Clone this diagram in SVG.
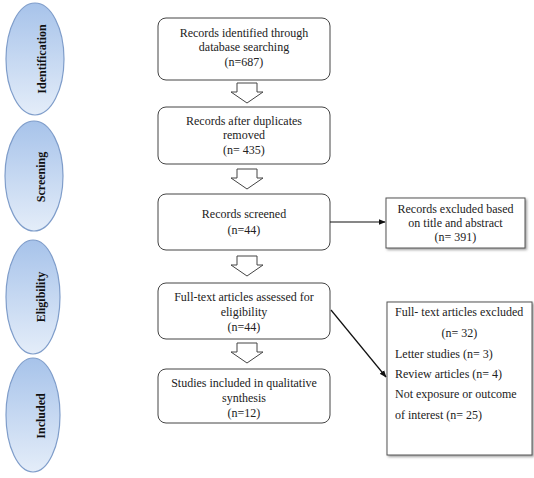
<svg xmlns="http://www.w3.org/2000/svg" width="534" height="478" viewBox="0 0 534 478">
<defs>
<linearGradient id="eg" x1="0" y1="0" x2="0" y2="1">
<stop offset="0" stop-color="#a7c3ea"/>
<stop offset="1" stop-color="#e4edf9"/>
</linearGradient>
<marker id="ah" viewBox="0 0 10 10" refX="9" refY="5" markerWidth="6" markerHeight="6" orient="auto">
<path d="M0,1 L10,5 L0,9 z" fill="#111"/>
</marker>
<filter id="sh" x="-10%" y="-10%" width="130%" height="130%">
<feDropShadow dx="1.5" dy="1.5" stdDeviation="0.8" flood-color="#777" flood-opacity="0.7"/>
</filter>
</defs>
<style>
.ell{fill:url(#eg);stroke:#7f9dca;stroke-width:1.2}
.lbl{font-family:"Liberation Serif","Times New Roman",serif;font-size:12px;font-weight:bold;fill:#111}
.box{fill:#fff;stroke:#444;stroke-width:1}
.rbox{fill:#fff;stroke:#555;stroke-width:1;filter:url(#sh)}
.t{font-family:"Liberation Serif","Times New Roman",serif;font-size:12px;fill:#222}
.c{text-anchor:middle}
.ha{fill:#fff;stroke:#444;stroke-width:1}
.ln{stroke:#111;stroke-width:1.2;fill:none;marker-end:url(#ah)}
</style>
<rect width="534" height="478" fill="#fff"/>

<g id="phase-identification">
<ellipse class="ell" cx="35" cy="59" rx="29" ry="56"/>
<text class="lbl" text-anchor="middle" transform="translate(46,59) rotate(-90)">Identification</text>
</g>
<g id="phase-screening">
<ellipse class="ell" cx="34" cy="176" rx="29" ry="55"/>
<text class="lbl" text-anchor="middle" transform="translate(45,177) rotate(-90)">Screening</text>
</g>
<g id="phase-eligibility">
<ellipse class="ell" cx="33" cy="297" rx="27" ry="57"/>
<text class="lbl" text-anchor="middle" transform="translate(45,297) rotate(-90)">Eligibility</text>
</g>
<g id="phase-included">
<ellipse class="ell" cx="33" cy="415" rx="27" ry="57"/>
<text class="lbl" text-anchor="middle" transform="translate(45,416) rotate(-90)">Included</text>
</g>

<g id="box-identified">
<rect class="box" x="158" y="18" width="172" height="62" rx="8"/>
<text class="t c" x="244" y="37">Records identified through</text>
<text class="t c" x="244" y="51">database searching</text>
<text class="t c" x="244" y="66">(n=687)</text>
</g>
<g id="box-duplicates">
<rect class="box" x="158" y="107" width="172" height="57" rx="8"/>
<text class="t c" x="244" y="125">Records after duplicates</text>
<text class="t c" x="244" y="139">removed</text>
<text class="t c" x="244" y="154">(n= 435)</text>
</g>
<g id="box-screened">
<rect class="box" x="158" y="194" width="172" height="56" rx="8"/>
<text class="t c" x="244" y="218">Records screened</text>
<text class="t c" x="244" y="234">(n=44)</text>
</g>
<g id="box-fulltext">
<rect class="box" x="158" y="283" width="172" height="56" rx="8"/>
<text class="t c" x="244" y="301">Full-text articles assessed for</text>
<text class="t c" x="244" y="316">eligibility</text>
<text class="t c" x="244" y="331">(n=44)</text>
</g>
<g id="box-included">
<rect class="box" x="158" y="369" width="172" height="54" rx="8"/>
<text class="t c" x="244" y="387">Studies included in qualitative</text>
<text class="t c" x="244" y="402">synthesis</text>
<text class="t c" x="244" y="417">(n=12)</text>
</g>
<g id="box-excluded-title">
<rect class="rbox" x="386" y="198" width="139" height="50"/>
<text class="t c" x="455.5" y="213">Records excluded based</text>
<text class="t c" x="455.5" y="227">on title and abstract</text>
<text class="t c" x="455.5" y="241">(n= 391)</text>
</g>
<g id="box-excluded-fulltext">
<rect class="rbox" x="387" y="302" width="145" height="153"/>
<text class="t" x="395" y="316">Full- text articles excluded</text>
<text class="t c" x="459.5" y="337">(n= 32)</text>
<text class="t" x="395" y="358">Letter studies (n= 3)</text>
<text class="t" x="395" y="378">Review articles (n= 4)</text>
<text class="t" x="395" y="398">Not exposure or outcome</text>
<text class="t" x="395" y="419">of interest (n= 25)</text>
</g>

<g id="connectors">
<path class="ha" d="M237,83 H257 V92 H263 L247,103 L231,92 H237 Z"/>
<path class="ha" d="M237,169 H257 V178 H263 L247,189 L231,178 H237 Z"/>
<path class="ha" d="M237,256 H257 V265 H263 L247,276 L231,265 H237 Z"/>
<path class="ha" d="M237,343 H257 V352 H263 L247,363 L231,352 H237 Z"/>
<line class="ln" x1="330" y1="222" x2="385" y2="222"/>
<line class="ln" x1="331" y1="310" x2="386" y2="377"/>
</g>
</svg>
